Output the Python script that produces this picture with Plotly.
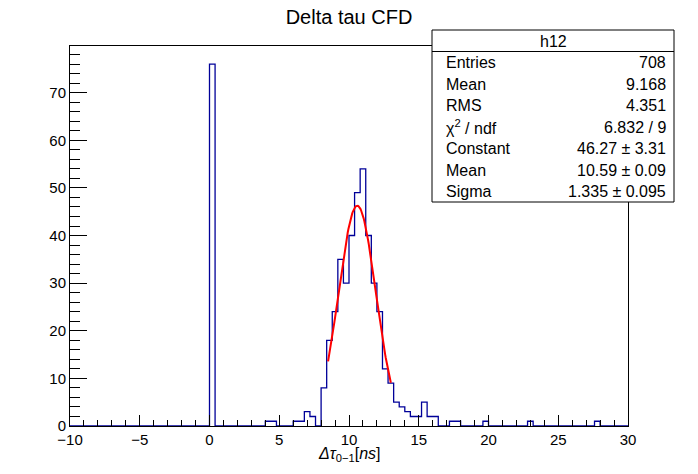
import numpy as np
import plotly.graph_objects as go

# ---------------- data ----------------
x_min, x_max, n_bins = -10.0, 30.0, 100
counts = [0] * 100
nonzero_bins = {25: 76, 35: 1, 36: 1, 40: 1, 41: 1, 42: 3, 43: 2, 45: 8, 46: 18,
                47: 24, 48: 35, 49: 30, 50: 40, 51: 49, 52: 54, 53: 40, 54: 30,
                55: 24, 56: 12, 57: 9, 58: 5, 59: 4, 60: 3, 61: 2, 62: 2, 63: 5,
                64: 2, 65: 2, 68: 1, 69: 1, 74: 1, 82: 1, 94: 1}
for k, v in nonzero_bins.items():
    counts[k] = v

fit_constant, fit_mean, fit_sigma = 46.27, 10.59, 1.335
fit_range = (8.5, 13.0)

stats_title = "h12"
stats_labels = ["Entries", "Mean", "RMS", "χ<sup>2</sup> / ndf", "Constant", "Mean", "Sigma"]
stats_values = ["708", "9.168", "4.351", "6.832 / 9", "46.27 ± 3.31", "10.59 ± 0.09", "1.335 ± 0.095"]

y_max = 79.8
x_ticks = [-10, -5, 0, 5, 10, 15, 20, 25, 30]
y_ticks = [0, 10, 20, 30, 40, 50, 60, 70]

# ---------------- build ----------------
width = (x_max - x_min) / n_bins
edges = [x_min + i * width for i in range(n_bins + 1)]
hx = [edges[0]] + edges
hy = [0] + counts + [0]

fx = np.linspace(fit_range[0], fit_range[1], 100)
fy = fit_constant * np.exp(-0.5 * ((fx - fit_mean) / fit_sigma) ** 2)

FONT = "Liberation Sans, Arial, Helvetica, sans-serif"
W, H = 698, 474
L, R, T, B = 70, 628, 46, 426

fig = go.Figure()
fig.add_trace(go.Scatter(x=hx, y=hy, mode="lines", line=dict(shape="hv", color="rgb(0,0,153)", width=1.3),
                         hoverinfo="skip", showlegend=False))
fig.add_trace(go.Scatter(x=fx, y=fy, mode="lines", line=dict(color="#ff0000", width=2),
                         hoverinfo="skip", showlegend=False))

def px2x(px):
    return (px - L) / (R - L)

def py2y(py):
    return (B - py) / (B - T)

shapes = []
box_l, box_r, box_t, box_b = 432, 674, 30, 202
shapes.append(dict(type="rect", xref="paper", yref="paper", x0=px2x(box_l), x1=px2x(box_r),
                   y0=py2y(box_b), y1=py2y(box_t), line=dict(color="black", width=1),
                   fillcolor="white", layer="above"))
row_h = (box_b - box_t) / 8
shapes.append(dict(type="line", xref="paper", yref="paper", x0=px2x(box_l), x1=px2x(box_r),
                   y0=py2y(box_t + row_h), y1=py2y(box_t + row_h), line=dict(color="black", width=1),
                   layer="above"))

annotations = []
annotations.append(dict(text=stats_title, xref="paper", yref="paper", x=px2x((box_l + box_r) / 2),
                        y=py2y(box_t + row_h / 2 + 0.5), xanchor="center", yanchor="middle",
                        showarrow=False, font=dict(family=FONT, size=16, color="black")))
for i, (lab, val) in enumerate(zip(stats_labels, stats_values)):
    yc = py2y(box_t + row_h * (i + 1.5) + 0.5)
    annotations.append(dict(text=lab, xref="paper", yref="paper", x=px2x(444), y=yc,
                            xanchor="left", yanchor="middle", showarrow=False,
                            font=dict(family=FONT, size=16, color="black")))
    annotations.append(dict(text=val, xref="paper", yref="paper", x=px2x(668), y=yc,
                            xanchor="right", yanchor="middle", showarrow=False,
                            font=dict(family=FONT, size=16, color="black")))

annotations.append(dict(text="<i>Δτ</i><sub>0−1</sub>[<i>ns</i>]", xref="paper", yref="paper",
                        x=0.5, y=py2y(455), xanchor="center", yanchor="middle", showarrow=False,
                        font=dict(family=FONT, size=16, color="black")))

fig.update_layout(
    width=W, height=H,
    margin=dict(l=L, r=W - R, t=T, b=H - B, pad=0),
    paper_bgcolor="white", plot_bgcolor="white",
    title=dict(text="Delta tau CFD", x=0.5, xref="paper", y=1 - 17 / H, yref="container",
               xanchor="center", yanchor="middle", font=dict(family=FONT, size=20, color="black")),
    font=dict(family=FONT, size=15, color="black"),
    shapes=shapes, annotations=annotations,
    xaxis=dict(range=[x_min, x_max], tickmode="array", tickvals=x_ticks, ticks="inside", ticklen=11,
               tickcolor="black", showline=True, mirror=True, linecolor="black", linewidth=1,
               showgrid=False, zeroline=False,
               minor=dict(dtick=1, tick0=0, ticks="inside", ticklen=6, tickcolor="black", showgrid=False),
               tickfont=dict(family=FONT, size=15, color="black")),
    yaxis=dict(range=[0, y_max], tickmode="array", tickvals=y_ticks, ticks="inside", ticklen=17,
               tickcolor="black", showline=True, mirror=True, linecolor="black", linewidth=1,
               showgrid=False, zeroline=False,
               minor=dict(dtick=2, tick0=0, ticks="inside", ticklen=10, tickcolor="black", showgrid=False),
               tickfont=dict(family=FONT, size=15, color="black")),
)

fig.write_html("out.html")
